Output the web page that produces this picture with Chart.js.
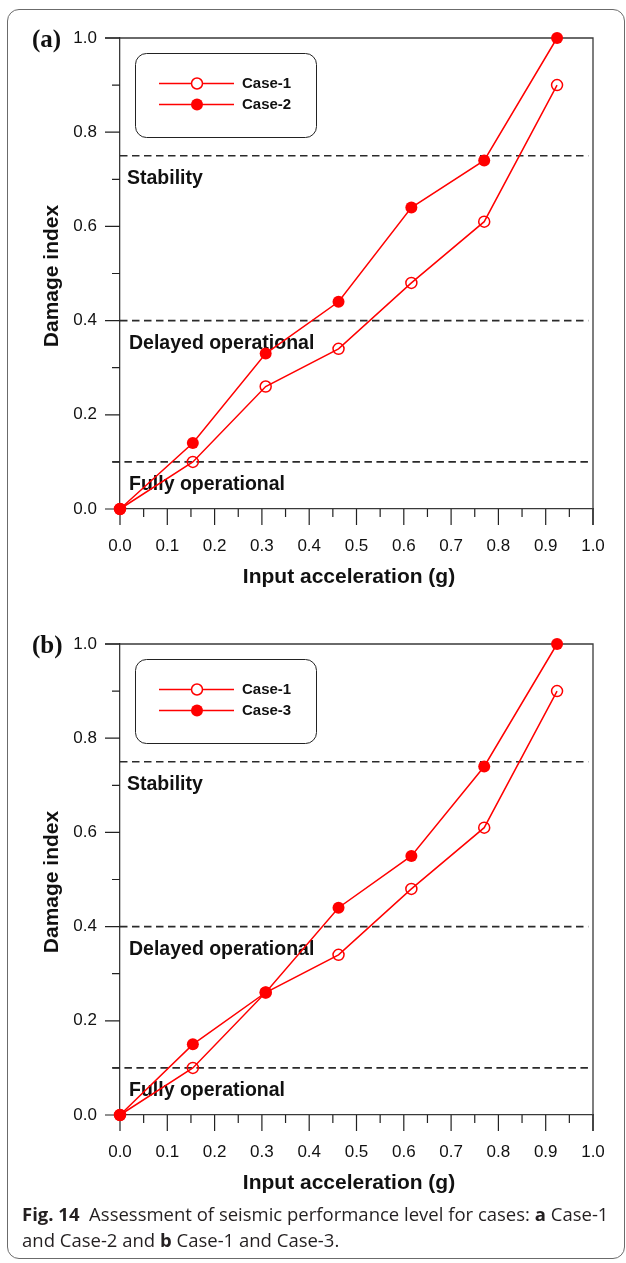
<!DOCTYPE html>
<html>
<head>
<meta charset="utf-8">
<script src="https://cdn.jsdelivr.net/npm/chart.js@4/dist/chart.umd.min.js"></script>
<style>
  html, body { margin: 0; padding: 0; background: #fff; }
  body { width: 626px; height: 1263px; position: relative; overflow: hidden; }
  .frame { position: absolute; left: 7px; top: 9px; width: 618px; height: 1250px;
           border: 1.3px solid #6b6b6b; border-radius: 12px; box-sizing: border-box; }
  .panel { position: absolute; left: 0; width: 626px; height: 600px; }
  #panelA { top: 0; }
  #panelB { top: 606px; }
  .cap { position: absolute; left: 22px; font-family: "Open Sans", sans-serif;
         font-size: 18.5px; line-height: 26px; color: #231f20; white-space: nowrap; }
  .cap b { font-weight: 700; }
  #cap1 { top: 1201px; }
  #cap2 { top: 1227px; }
</style>
</head>
<body>
<div class="frame"></div>
<div class="panel" id="panelA"><canvas id="chartA" width="626" height="600"></canvas></div>
<div class="panel" id="panelB"><canvas id="chartB" width="626" height="600"></canvas></div>
<div class="cap" id="cap1"><b>Fig. 14</b>&nbsp; Assessment of seismic performance level for cases: <b>a</b> Case-1</div>
<div class="cap" id="cap2">and Case-2 and <b>b</b> Case-1 and Case-3.</div>

<script>
// Input acceleration (g) of each shaking step
const accel = [0, 0.154, 0.308, 0.462, 0.616, 0.770, 0.924];

// Damage index per case
const case1 = [0, 0.10, 0.26, 0.34, 0.48, 0.61, 0.90];
const case2 = [0, 0.14, 0.33, 0.44, 0.64, 0.74, 1.00];
const case3 = [0, 0.15, 0.26, 0.44, 0.55, 0.74, 1.00];

// Performance level thresholds
const levelValues = [0.75, 0.40, 0.10];
const levelNames = ['Stability', 'Delayed operational', 'Fully operational'];
const levelFrom = [0, 0, -0.016];
const levelTo = 0.99;

// Axis tick values
const xTickValues = [0, 0.1, 0.2, 0.3, 0.4, 0.5, 0.6, 0.7, 0.8, 0.9, 1.0];
const yTickValues = [0, 0.2, 0.4, 0.6, 0.8, 1.0];

const RED = '#ff0000';
const AXIS = '#3a3a3a';
const SANS = '"Liberation Sans", Arial, sans-serif';

function pts(ys) { return accel.map((x, i) => ({ x: x, y: ys[i] })); }

function openSeries(label, ys) {
  return { label, data: pts(ys), borderColor: RED, borderWidth: 1.5,
    pointRadius: 5.5, pointHoverRadius: 5.5, pointBorderWidth: 1.5,
    pointBackgroundColor: 'rgba(0,0,0,0)', pointBorderColor: RED,
    clip: false, order: 1, filled: false };
}
function filledSeries(label, ys) {
  return { label, data: pts(ys), borderColor: RED, borderWidth: 1.5,
    pointRadius: 6, pointHoverRadius: 6, pointBorderWidth: 0,
    pointBackgroundColor: RED, pointBorderColor: RED,
    clip: false, order: 0, filled: true };
}
function levelSeries() {
  return levelValues.map((v, i) => ({
    label: levelNames[i], level: true,
    data: [{ x: levelFrom[i], y: v }, { x: levelTo, y: v }],
    borderColor: '#2a2a2a', borderWidth: 1.6, borderDash: [7.5, 4.5],
    pointRadius: 0, pointHoverRadius: 0, clip: false, order: 5
  }));
}

function midpoints(vals) {
  const out = [];
  for (let i = 0; i < vals.length - 1; i++) out.push((vals[i] + vals[i + 1]) / 2);
  return out;
}

// keep the plot box fixed: no extra room reserved for overhanging tick labels
function noLabelPadding(s) {
  s.paddingLeft = 0; s.paddingRight = 0; s.paddingTop = 0; s.paddingBottom = 0;
}

const decor = {
  id: 'decor',
  beforeDatasetsDraw(chart, args, opts) {
    const ctx = chart.ctx, xs = chart.scales.x, ys = chart.scales.y, a = chart.chartArea;
    ctx.save();
    // plot frame: top and right edges
    ctx.strokeStyle = AXIS; ctx.lineWidth = 1.3;
    ctx.beginPath();
    ctx.moveTo(a.left - 15, a.top); ctx.lineTo(a.right, a.top);
    ctx.lineTo(a.right, a.bottom + 16);
    ctx.stroke();
    // tick marks
    ctx.strokeStyle = '#222'; ctx.lineWidth = 1.2;
    ctx.beginPath();
    yTickValues.forEach(v => { const p = ys.getPixelForValue(v); ctx.moveTo(a.left - 15, p); ctx.lineTo(a.left, p); });
    midpoints(yTickValues).forEach(v => { const p = ys.getPixelForValue(v); ctx.moveTo(a.left - 8, p); ctx.lineTo(a.left, p); });
    xTickValues.forEach(v => { const p = xs.getPixelForValue(v); ctx.moveTo(p, a.bottom); ctx.lineTo(p, a.bottom + 16); });
    midpoints(xTickValues).forEach(v => { const p = xs.getPixelForValue(v); ctx.moveTo(p, a.bottom); ctx.lineTo(p, a.bottom + 8); });
    ctx.stroke();
    // performance level names below each threshold line
    ctx.fillStyle = '#111';
    ctx.font = 'bold 19.5px ' + SANS;
    ctx.textAlign = 'left'; ctx.textBaseline = 'middle';
    levelValues.forEach((v, i) => {
      ctx.fillText(levelNames[i], a.left + (i === 0 ? 7 : 9), ys.getPixelForValue(v) + 23);
    });
    // axis titles
    ctx.font = 'bold 21px ' + SANS;
    ctx.textAlign = 'center';
    ctx.fillText('Input acceleration (g)', 349, 577);
    ctx.save();
    ctx.translate(52, 276); ctx.rotate(-Math.PI / 2);
    ctx.fillText('Damage index', 0, 0);
    ctx.restore();
    // panel letter
    ctx.font = 'bold 25px "Liberation Serif", "Times New Roman", serif';
    ctx.textAlign = 'left'; ctx.textBaseline = 'alphabetic';
    ctx.fillText(opts.letter, 32, 47);
    ctx.restore();
  },
  afterDraw(chart) {
    const ctx = chart.ctx;
    const series = chart.data.datasets.filter(d => !d.level);
    ctx.save();
    // legend box
    const bx = 135, by = 53, bw = 181, bh = 84, r = 11;
    ctx.strokeStyle = '#222'; ctx.lineWidth = 1;
    ctx.beginPath();
    ctx.roundRect(bx + 0.5, by + 0.5, bw, bh, r);
    ctx.stroke();
    series.forEach((d, i) => {
      const y = 83.5 + i * 21;
      ctx.strokeStyle = d.borderColor; ctx.lineWidth = 1.5;
      ctx.beginPath(); ctx.moveTo(159, y); ctx.lineTo(234, y); ctx.stroke();
      ctx.beginPath();
      ctx.arc(197, y, d.pointRadius, 0, Math.PI * 2);
      if (d.filled) { ctx.fillStyle = d.pointBackgroundColor; ctx.fill(); }
      else { ctx.fillStyle = '#fff'; ctx.fill(); ctx.lineWidth = d.pointBorderWidth; ctx.strokeStyle = d.pointBorderColor; ctx.stroke(); }
      ctx.fillStyle = '#111';
      ctx.font = 'bold 15px ' + SANS;
      ctx.textAlign = 'left'; ctx.textBaseline = 'middle';
      ctx.fillText(d.label, 242, y);
    });
    ctx.restore();
  }
};

function makeChart(id, letter, secondLabel, secondValues) {
  return new Chart(document.getElementById(id), {
    type: 'line',
    data: {
      datasets: [openSeries('Case-1', case1), filledSeries(secondLabel, secondValues)].concat(levelSeries())
    },
    options: {
      responsive: false,
      animation: false,
      events: [],
      layout: { padding: { top: 38, right: 33, left: 0, bottom: 0 } },
      plugins: { legend: { display: false }, tooltip: { enabled: false }, decor: { letter } },
      scales: {
        x: {
          type: 'linear', min: 0, max: 1,
          afterBuildTicks: s => { s.ticks = xTickValues.map(v => ({ value: v })); },
          afterFit: s => { s.height = 91; noLabelPadding(s); },
          grid: { display: true, drawOnChartArea: false, drawTicks: false },
          border: { display: true, color: AXIS, width: 1.3 },
          ticks: { font: { family: SANS, size: 17 }, color: '#111', padding: 27,
                   maxRotation: 0, autoSkip: false, callback: v => Number(v).toFixed(1) }
        },
        y: {
          type: 'linear', min: 0, max: 1,
          afterBuildTicks: s => { s.ticks = yTickValues.map(v => ({ value: v })); },
          afterFit: s => { s.width = 120; noLabelPadding(s); },
          grid: { display: true, drawOnChartArea: false, drawTicks: false },
          border: { display: true, color: AXIS, width: 1.3 },
          ticks: { font: { family: SANS, size: 17 }, color: '#111', padding: 23,
                   autoSkip: false, callback: v => Number(v).toFixed(1) }
        }
      }
    },
    plugins: [decor]
  });
}

makeChart('chartA', '(a)', 'Case-2', case2);
makeChart('chartB', '(b)', 'Case-3', case3);
</script>
</body>
</html>
